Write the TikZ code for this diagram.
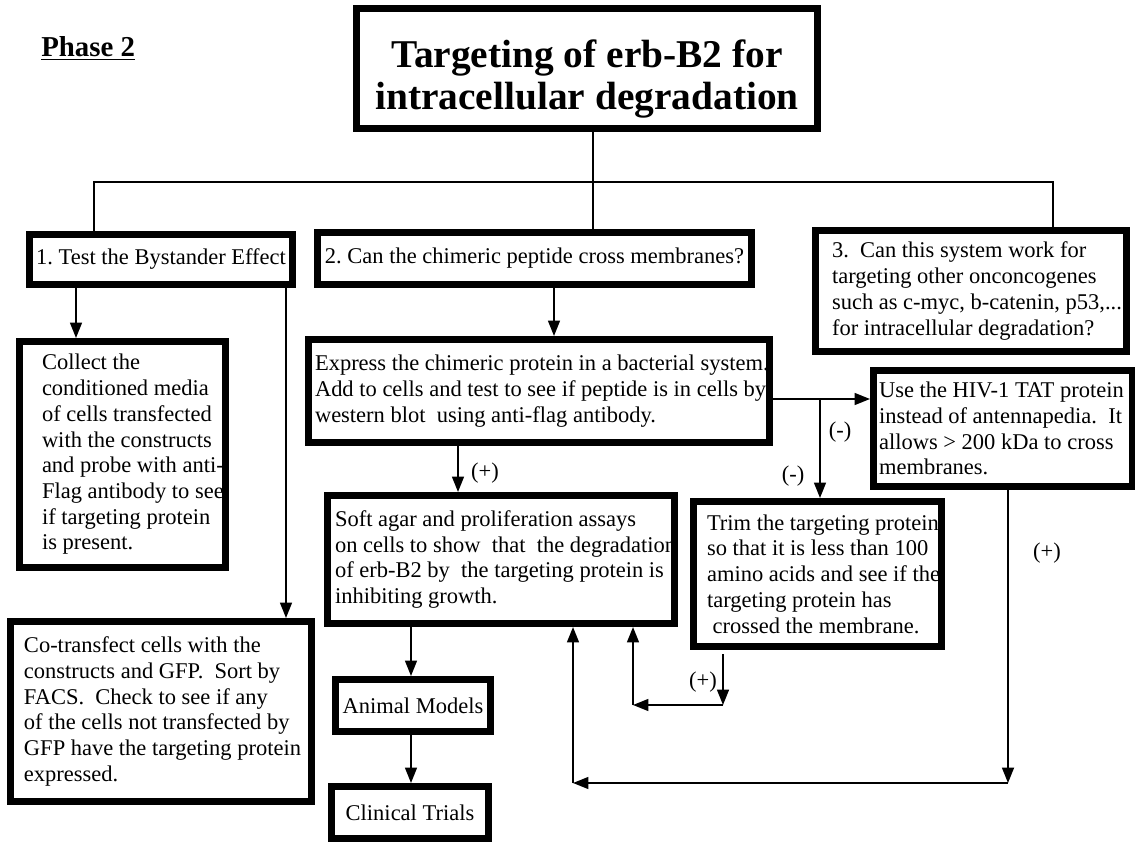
\documentclass[tikz,border=0pt]{standalone}
\usepackage{fontspec}
\setmainfont{Liberation Serif}
\usetikzlibrary{arrows.meta}
\frenchspacing

\begin{document}
\begin{tikzpicture}[x=0.025cm, y=-0.025cm,
    box/.style 2 args={draw, line width=5pt, inner sep=0pt,
      minimum width=#1*0.025cm, text width=#1*0.025cm,
      minimum height=#2*0.025cm, font=\fontsize{16}{18.3}\selectfont},
    inset/.style={execute at begin node={\pgfmathsetlength{\leftskip}{#1*0.025cm}\rightskip=-20pt plus 1fil}},
    conn/.style={line width=1.3pt},
    arr/.style={conn, -{Triangle[length=11pt,width=8.5pt]}},
    sign/.style={inner sep=0pt, font=\fontsize{16}{18}\selectfont}
    ]
    \useasboundingbox (0,0) rectangle (1135,846);

    % Heading
    \node[anchor=base west, inner sep=0pt, font=\bfseries\fontsize{20.5}{24}\selectfont] (phase) at (41,57) {\underline{Phase 2}};
    \node[box={461}{120}, align=flush center, font=\bfseries\fontsize{28}{30}\selectfont] (title) at (587,68.5) {\rule{0pt}{34.6pt}Targeting of erb-B2 for\\intracellular degradation};

    % Questions
    \node[box={263}{50}, align=flush center] (q1) at (161,259.5) {1. Test the Bystander Effect};
    \node[box={434}{52}, align=flush center] (q2) at (534.5,258.5) {2. Can the chimeric peptide cross membranes?};
    \node[box={311}{121}, align=flush left, inset=16.5] (q3) at (971,291) {3.\ \ Can this system work for\\targeting other onconcogenes\\such as c-myc, b-catenin, p53,...\\for intracellular degradation?};

    % Experiments
    \node[box={206}{226}, align=flush left, inset=22.5] (collect) at (122.5,454.5) {Collect the\\conditioned media\\of cells transfected\\with the constructs\\and probe with anti-\\Flag antibody to see\\if targeting protein\\is present.};
    \node[box={301}{180}, align=flush left, inset=13.5] (cotrans) at (161,711.5) {Co-transfect cells with the\\constructs and GFP.\ \ Sort by\\FACS.\ \ Check to see if any\\of the cells not transfected by\\GFP have the targeting protein\\expressed.};
    \node[box={461}{103}, align=flush left, inset=6.5] (express) at (539,391) {Express the chimeric protein in a bacterial system.\\Add to cells and test to see if peptide is in cells by\\western blot\ \ using anti-flag antibody.};
    \node[box={259}{116}, align=flush left, inset=5.5] (hiv) at (1003,428.5) {Use the HIV-1 TAT protein\\instead of antennapedia.\ \ It\\allows > 200 kDa to cross\\membranes.};
    \node[box={347}{128}, align=flush left, inset=7.5] (soft) at (501,559.5) {Soft agar and proliferation assays\\on cells to show\ \ that\ \ the degradation\\of erb-B2 by\ \ the targeting protein is\\inhibiting growth.};
    \node[box={248}{145}, align=flush left, inset=13.5] (trim) at (817.5,574) {Trim the targeting protein\\so that it is less than 100\\amino acids and see if the\\targeting protein has\\\hspace*{4pt}crossed the membrane.};
    \node[box={155}{52}, align=flush center] (animal) at (413,705.5) {Animal Models};
    \node[box={157}{52}, align=flush center] (clinical) at (410,812.5) {Clinical Trials};

    % Tree
    \coordinate (hub) at (593,182);
    \coordinate (busL) at (94,182);
    \coordinate (busR) at (1053,182);
    \draw[conn] (title.south -| hub) -- (hub);
    \draw[conn] (q1.north -| busL) -- (busL) -- (busR) -- (q3.north -| busR);
    \draw[conn] (hub) -- (q2.north -| hub);

    % Arrows
    \coordinate (colX) at (76,0);
    \coordinate (coX) at (286,0);
    \coordinate (expX) at (554,0);
    \coordinate (softX) at (458,0);
    \coordinate (animX) at (411,0);
    \coordinate (fork) at (820,399);
    \coordinate (turnA) at (723,705);
    \coordinate (backA) at (633,705);
    \coordinate (turnB) at (1008,783);
    \coordinate (backB) at (573,783);

    \draw[arr] (q1.south -| colX) -- (collect.north -| colX);
    \draw[arr] (q1.south -| coX) -- (cotrans.north -| coX);
    \draw[arr] (q2.south -| expX) -- (express.north -| expX);
    \draw[arr] (express.east |- fork) -- (hiv.west |- fork);
    \draw[arr] (fork) -- (trim.north -| fork);
    \draw[arr] (express.south -| softX) -- (soft.north -| softX);
    \draw[arr] (soft.south -| animX) -- (animal.north -| animX);
    \draw[arr] (animal.south -| animX) -- (clinical.north -| animX);

    \draw[arr, shorten <=3pt] (trim.south -| turnA) -- (turnA);
    \draw[arr] (turnA) -- (backA);
    \draw[arr] (backA) -- (soft.south -| backA);
    \draw[arr] (hiv.south -| turnB) -- (turnB);
    \draw[arr] (turnB) -- (backB);
    \draw[arr] (backB) -- (soft.south -| backB);

    % Outcomes
    \node[sign] (plus1) at (485,473) {(+)};
    \node[sign] (minus1) at (840,432) {(-)};
    \node[sign] (minus2) at (793,476) {(-)};
    \node[sign] (plus2) at (703,682) {(+)};
    \node[sign] (plus3) at (1047,553) {(+)};
\end{tikzpicture}
\end{document}
